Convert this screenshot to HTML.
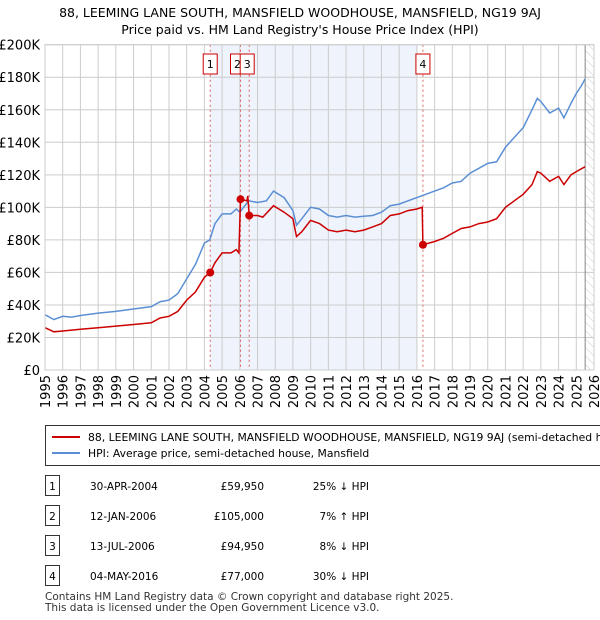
<!DOCTYPE html>
<html><head><meta charset="utf-8"><style>
body{margin:0;background:#fff;font-family:"DejaVu Sans","Liberation Sans",sans-serif;}
svg{display:block}
</style></head><body>
<svg id="c" width="600" height="620" xmlns="http://www.w3.org/2000/svg" font-family="DejaVu Sans, Liberation Sans, sans-serif">
<text x="300" y="17" text-anchor="middle" font-size="12.5">88, LEEMING LANE SOUTH, MANSFIELD WOODHOUSE, MANSFIELD, NG19 9AJ</text>
<text x="300" y="34" text-anchor="middle" font-size="12.5">Price paid vs. HM Land Registry's House Price Index (HPI)</text>
<defs><pattern id="h" width="6" height="6" patternUnits="userSpaceOnUse" patternTransform="rotate(-45)"><line x1="0" y1="0" x2="0" y2="6" stroke="#ccc" stroke-width="1"/></pattern></defs>
<g id="plot"></g>
<g>
<rect x="45.5" y="425.5" width="570" height="40" fill="#fff" stroke="#333"/>
<line x1="52" y1="437" x2="80" y2="437" stroke="#cc0000" stroke-width="2"/>
<text x="88" y="441" font-size="10.8">88, LEEMING LANE SOUTH, MANSFIELD WOODHOUSE, MANSFIELD, NG19 9AJ (semi-detached h</text>
<line x1="52" y1="453" x2="80" y2="453" stroke="#5b8fd4" stroke-width="2"/>
<text x="88" y="457" font-size="10.8">HPI: Average price, semi-detached house, Mansfield</text>
</g>
<g id="tbl" font-size="10.5"></g>
<text x="45" y="600" font-size="10.5" fill="#333">Contains HM Land Registry data © Crown copyright and database right 2025.</text>
<text x="45" y="611" font-size="10.5" fill="#333">This data is licensed under the Open Government Licence v3.0.</text>
</svg>
<script>
const hpiYears=[1995,1995.5,1996,1996.5,1997,1998,1999,2000,2001,2001.5,2002,2002.5,2003,2003.5,2004,2004.3,2004.6,2005,2005.5,2005.8,2006,2006.5,2007,2007.5,2007.9,2008.5,2009,2009.2,2009.5,2010,2010.5,2011,2011.5,2012,2012.5,2013,2013.5,2014,2014.5,2015,2015.5,2016,2016.5,2017,2017.5,2018,2018.5,2019,2019.5,2020,2020.5,2021,2021.5,2022,2022.5,2022.8,2023,2023.5,2024,2024.3,2024.7,2025,2025.3,2025.5];
const hpiValues=[34,31,33,32.5,33.5,35,36,37.5,39,42,43,47,56,65,78,80,90,96,96,99,97,104,103,104,110,106,98,89,93,100,99,95,94,95,94,94.5,95,97,101,102,104,106,108,110,112,115,116,121,124,127,128,137,143,149,160,167,165,158,161,155,164,170,175,179];
const ppYears=[1995,1995.5,1996,1997,1998,1999,2000,2001,2001.5,2002,2002.5,2003,2003.5,2004,2004.33,2004.6,2005,2005.5,2005.8,2005.95,2006.04,2006.4,2006.45,2006.53,2007,2007.3,2007.9,2008.5,2009,2009.2,2009.5,2010,2010.5,2011,2011.5,2012,2012.5,2013,2013.5,2014,2014.5,2015,2015.5,2016,2016.3,2016.34,2017,2017.5,2018,2018.5,2019,2019.5,2020,2020.5,2021,2021.5,2022,2022.5,2022.8,2023,2023.5,2024,2024.3,2024.7,2025,2025.5];
const ppValues=[26,23.5,24,25,26,27,28,29,32,33,36,43,48,57,59.95,66,72,72,74,72,105,104,107,94.95,95,94,101,97,93,82,85,92,90,86,85,86,85,86,88,90,95,96,98,99,100,77,79,81,84,87,88,90,91,93,100,104,108,114,122,121,116,119,114,120,122,125];
const saleLabels=["1","2","3","4"];
const saleYears=[2004.33,2006.04,2006.53,2016.34];
const saleValues=[59.95,105,94.95,77];
const saleDates=["30-APR-2004","12-JAN-2006","13-JUL-2006","04-MAY-2016"];
const salePrices=["£59,950","£105,000","£94,950","£77,000"];
const saleHpi=["25% ↓ HPI","7% ↑ HPI","8% ↓ HPI","30% ↓ HPI"];
const yTicks=[0,20,40,60,80,100,120,140,160,180,200];
const xTicks=[1995,1996,1997,1998,1999,2000,2001,2002,2003,2004,2005,2006,2007,2008,2009,2010,2011,2012,2013,2014,2015,2016,2017,2018,2019,2020,2021,2022,2023,2024,2025,2026];
const X=y=>45+(y-1995)*(549/31), Y=v=>370-v*(325.3/200);
const NS="http://www.w3.org/2000/svg",g=document.getElementById('plot');
function mk(t,a,p){const e=document.createElementNS(NS,t);for(const k in a)e.setAttribute(k,a[k]);(p||g).appendChild(e);return e;}
let e;
e=mk('rect',{x:X(2004.33),y:Y(200),width:X(2016)-X(2004.33),height:Y(0)-Y(200),fill:'#eef3fc'});


e=mk('rect',{x:X(2025.5),y:Y(200),width:X(2026)-X(2025.5),height:Y(0)-Y(200),fill:'url(#h)'});


yTicks.forEach(v=>{e=mk('line',{x1:45,x2:594,y1:Y(v),y2:Y(v),stroke:'#ccc'});


e=mk('text',{x:40,y:Y(v)+5,'text-anchor':'end','font-size':13});e.textContent=v===0?'£0':'£'+v+'K';

});
xTicks.forEach(y=>{e=mk('line',{x1:X(y),x2:X(y),y1:Y(200),y2:Y(0),stroke:'#ccc'});


e=mk('text',{transform:`translate(${X(y)+5},375) rotate(-90)`,'text-anchor':'end','font-size':13});e.textContent=y;

});
e=mk('line',{x1:X(2025.5),x2:X(2025.5),y1:Y(200),y2:Y(0),stroke:'#888'});


saleYears.forEach((y,i)=>{e=mk('line',{x1:X(y),x2:X(y),y1:Y(200),y2:Y(0),stroke:'#e06060','stroke-dasharray':'2,3'});

});
const path=(xs,vs)=>xs.map((y,i)=>(i?'L':'M')+X(y).toFixed(1)+','+Y(vs[i]).toFixed(1)).join('');
e=mk('path',{d:path(hpiYears,hpiValues),fill:'none',stroke:'#5b8fd4','stroke-width':1.5});


e=mk('path',{d:path(ppYears,ppValues),fill:'none',stroke:'#cc0000','stroke-width':1.5});


saleYears.forEach((y,i)=>{e=mk('circle',{cx:X(y),cy:Y(saleValues[i]),r:4,fill:'#cc0000'});


const bx=X(y)-7+(i===1?-3:i===2?-2:0);
const gg=mk('g',{});


mk('rect',{x:bx,y:54,width:14,height:20,fill:'#fff',stroke:'#cc0000'},gg);
const t=mk('text',{x:bx+7,y:68,'text-anchor':'middle','font-size':11},gg);t.textContent=saleLabels[i];});
e=mk('rect',{x:45,y:Y(200),width:549,height:Y(0)-Y(200),fill:'none',stroke:'#ccc'});


const tb=document.getElementById('tbl'),rowsY=[487,517,547,577];
saleLabels.forEach((l,i)=>{const ry=rowsY[i];const r=mk('g',{},tb);


mk('rect',{x:45.5,y:ry-11.5,width:14,height:20,fill:'#fff',stroke:'#333'},r);
let t=mk('text',{x:52.5,y:ry+3,'text-anchor':'middle'},r);t.textContent=l;
t=mk('text',{x:90,y:ry+3},r);t.textContent=saleDates[i];
t=mk('text',{x:264,y:ry+3,'text-anchor':'end'},r);t.textContent=salePrices[i];
t=mk('text',{x:369,y:ry+3,'text-anchor':'end'},r);t.textContent=saleHpi[i];});
</script>
</body></html>
